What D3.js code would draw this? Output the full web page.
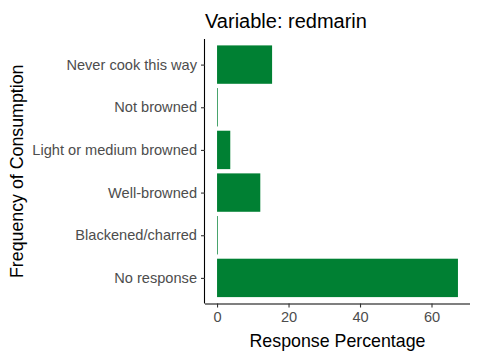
<!DOCTYPE html>
<html><head><meta charset="utf-8">
<script src="https://cdn.jsdelivr.net/npm/d3@7"></script>
<style>body{margin:0;background:#fff;} text{font-family:"Liberation Sans",Arial,sans-serif;}</style>
</head><body><svg id="c" width="480" height="360"></svg>
<script>
const categories = ["Never cook this way","Not browned","Light or medium browned","Well-browned","Blackened/charred","No response"];
const values = [15.4, 0.2, 3.7, 12.1, 0.2, 67.4];
const xTicks = [0, 20, 40, 60];
const titleText = "Variable: redmarin";
const xTitle = "Response Percentage";
const yTitle = "Frequency of Consumption";

const svg = d3.select("#c");
const L = 205, R = 470, T = 39, B = 303.5;
const xmax = d3.max(values);
const pad = xmax * 0.05;
const x = d3.scaleLinear().domain([-pad, xmax + pad]).range([L, R]);
const step = (B - T) / (categories.length - 1 + 1.2);
const yc = d3.scalePoint().domain(categories).range([T + 0.6 * step, B - 0.6 * step]);
const bh = step * 0.9;

svg.append("g").selectAll("rect").data(categories).join("rect")
  .attr("x", x(0))
  .attr("y", d => yc(d) - bh / 2)
  .attr("width", (d, i) => x(values[i]) - x(0))
  .attr("height", bh)
  .attr("fill", "#008033");

const xa = svg.append("g").attr("transform", `translate(0,${B})`)
  .call(d3.axisBottom(x).tickValues(xTicks).tickSize(4).tickPadding(4).tickFormat(d3.format("d")));
xa.select(".domain").attr("stroke", "#000").attr("stroke-width", 1.1).attr("d", `M${L},0.5H${R}`);
xa.selectAll(".tick line").attr("stroke", "#333").attr("stroke-width", 1.1);
xa.selectAll(".tick text").attr("fill", "#4D4D4D").style("font-size", "14.6px");

const ya = svg.append("g").attr("transform", `translate(${L},0)`)
  .call(d3.axisLeft(yc).tickSize(4).tickPadding(4));
ya.select(".domain").attr("stroke", "#000").attr("stroke-width", 1.1).attr("d", `M-0.5,${T}V${B}`);
ya.selectAll(".tick line").attr("stroke", "#333").attr("stroke-width", 1.1);
ya.selectAll(".tick text").attr("fill", "#4D4D4D").style("font-size", "14.6px");

svg.append("text").attr("x", L).attr("y", 28).text(titleText)
  .style("font-size", "20px").attr("fill", "#000");
svg.append("text").attr("x", (L + R) / 2).attr("y", 347).attr("text-anchor", "middle")
  .text(xTitle).style("font-size", "17.8px").attr("fill", "#000");
svg.append("text").attr("transform", `translate(23,${(T + B) / 2}) rotate(-90)`)
  .attr("text-anchor", "middle").text(yTitle).style("font-size", "17.8px").attr("fill", "#000");
</script></body></html>
